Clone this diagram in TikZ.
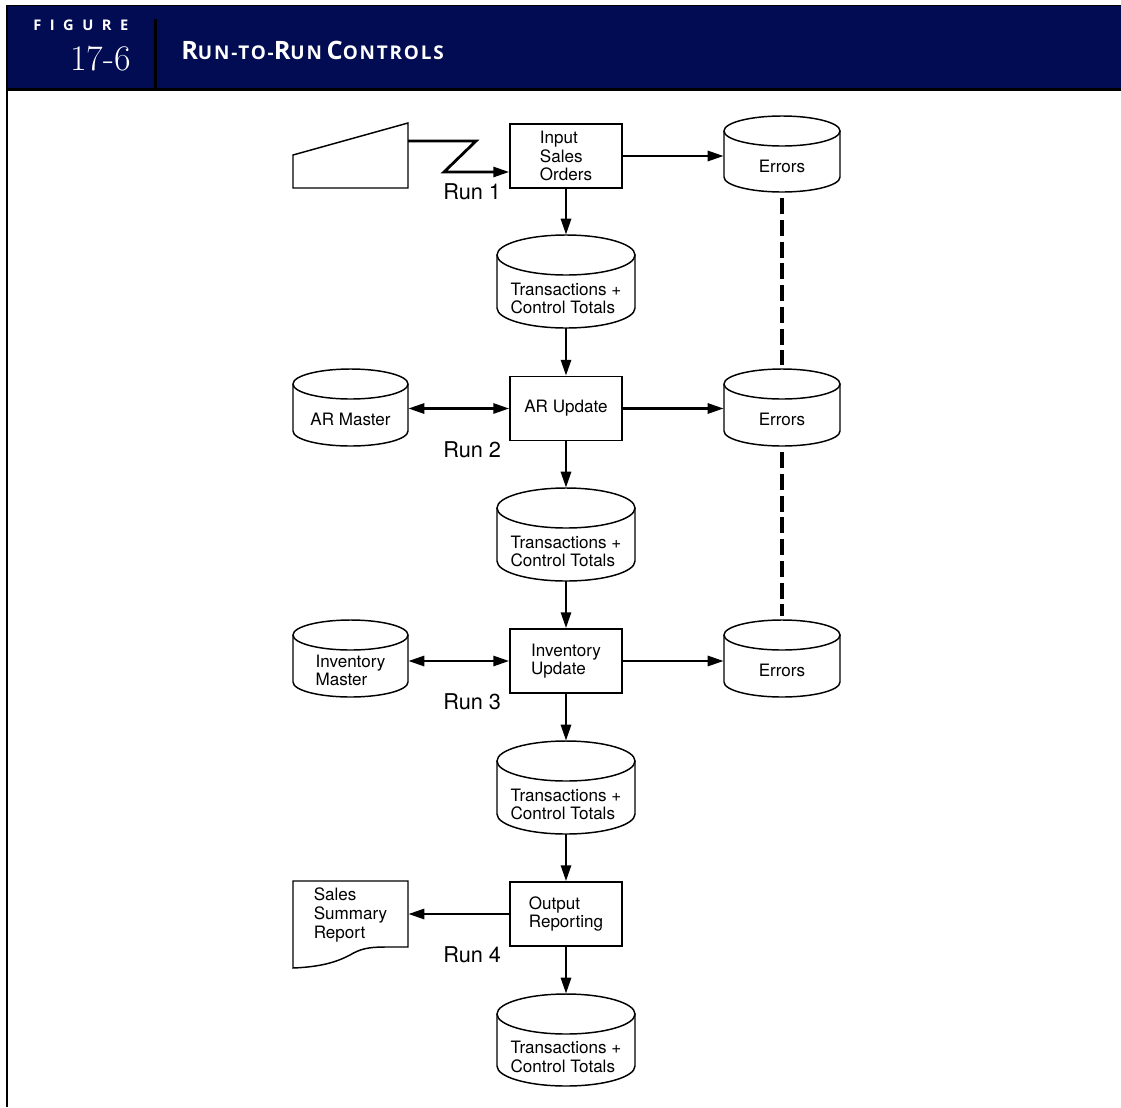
\documentclass[tikz,border=0pt]{standalone}
\usepackage{fontspec}
\usetikzlibrary{arrows.meta,calc}
\newfontfamily\helv{TeX Gyre Heros}
\newfontfamily\gill{Open Sans}
\definecolor{navy}{RGB}{2,12,82}
\newcommand\tbig[1]{{\fontsize{19}{22}\selectfont #1}}
\newcommand\tsml[1]{{\fontsize{14.2}{17}\selectfont #1}}
\tikzset{
  shapeline/.style={line width=1.1pt},
  box/.style={draw, line width=1.1pt, minimum width=84pt, minimum height=48pt, inner sep=0pt, align=left,
    font=\helv\fontsize{12.8}{14}\selectfont},
  txt/.style={inner sep=0pt, align=left, font=\helv\fontsize{12.8}{14}\selectfont},
  runlbl/.style={inner sep=0pt, anchor=west, font=\helv\fontsize{16.3}{18}\selectfont},
  arr/.style={line width=2.1pt, -{Triangle[length=12pt,width=7.5pt]}},
  dblarr/.style={line width=2.1pt, {Triangle[length=12pt,width=7.5pt]}-{Triangle[length=12pt,width=7.5pt]}},
  dashline/.style={line width=2.5pt, dash pattern=on 12pt off 4.3pt},
}
% #1 name, #2 cx, #3 top, #4 bottom, #5 half width, #6 ry, #7 text
\newcommand{\dbcyl}[7]{%
  \draw[shapeline] (#2,-#3-#6) ellipse [x radius=#5, y radius=#6];
  \draw[shapeline] (#2-#5,-#3-#6) -- (#2-#5,-#4+#6)
     arc[start angle=180, end angle=360, x radius=#5, y radius=#6] -- (#2+#5,-#3-#6);
  \node[inner sep=0pt, minimum width={2*#5*0.75pt}, minimum height={(#4-#3)*0.75pt}]
     (#1) at (#2,{-(#3+#4)/2}) {};
  \node[txt] (#1-t) at (#2,{-(#3+#4)/2-#6+3}) {#7};
}
\begin{document}
\begin{tikzpicture}[x=0.75pt,y=0.75pt]
\useasboundingbox (0,0) rectangle (1121,-1107);
% header
\fill[navy] (7,-5.5) rectangle (1121,-89);
\draw[line width=1.2pt] (6,-5.5) -- (1121,-5.5);
\draw[line width=1.5pt] (7,-5) -- (7,-1107);
\draw[line width=2.2pt] (7,-89.5) -- (1121,-89.5);
\draw[line width=2.2pt] (155.5,-19) -- (155.5,-89);
\node[anchor=west, inner sep=0pt, text=white, font=\gill\bfseries\fontsize{11}{13}\selectfont\addfontfeature{LetterSpace=58}] (figlbl) at (33,-25) {FIGURE};
\node[anchor=east, inner sep=0pt, text=white, font=\fontsize{27}{30}\selectfont] (fignum) at (131,-59) {17-6};
\node[anchor=west, inner sep=0pt, text=white, font=\gill\bfseries\addfontfeature{LetterSpace=9.5}] (title) at (181,-50) {\tbig{R}\tsml{UN-TO-}\tbig{R}\tsml{UN} \tbig{C}\tsml{ONTROLS}};

% process boxes
\node[box] (in) at (566,-156) {Input\\Sales\\Orders};
\node[box] (ar) at (566,-408.5) {AR Update};
\node[box] (inv) at (566,-661) {Inventory\\Update};
\node[box] (out) at (566,-914) {Output\\Reporting};

% cylinders
\dbcyl{err1}{782}{116}{192}{58}{15}{Errors}
\dbcyl{err2}{782}{369}{446}{58}{15}{Errors}
\dbcyl{err3}{782}{620}{697}{58}{15}{Errors}
\dbcyl{arm}{350.5}{369}{446}{57.5}{15}{AR Master}
\dbcyl{invm}{350.5}{620}{697}{57.5}{15}{Inventory\\Master}
\dbcyl{tr1}{566}{235}{328}{69}{20}{Transactions +\\Control Totals}
\dbcyl{tr2}{566}{488}{581}{69}{20}{Transactions +\\Control Totals}
\dbcyl{tr3}{566}{741}{834}{69}{20}{Transactions +\\Control Totals}
\dbcyl{tr4}{566}{994}{1086}{69}{20}{Transactions +\\Control Totals}

% keyboard (manual input)
\draw[shapeline] (293,-188) -- (293,-155) -- (408,-123) -- (408,-188) -- cycle;
\coordinate (kb) at (408,-141);
\coordinate (zz1) at (476,-141);
\coordinate (zz2) at (444,-172);
\draw[arr] (kb) -- (zz1) -- (zz2) -- (zz2 -| in.west);

% report document
\draw[shapeline] (408,-947) -- (408,-881) -- (293,-881) -- (293,-968)
  .. controls (318,-967) and (335,-963) .. (350,-955)
  .. controls (360,-949) and (368,-947) .. (385,-947) -- cycle;
\node[txt, minimum width=86.25pt, minimum height=49.5pt] (rep) at (350.5,-915) {Sales\\Summary\\Report};

% run labels
\node[runlbl] (run1) at (443,-192) {Run 1};
\node[runlbl] (run2) at (443,-450) {Run 2};
\node[runlbl] (run3) at (443,-702) {Run 3};
\node[runlbl] (run4) at (443,-955) {Run 4};

% main flow
\draw[arr] (in.south) -- (tr1.north);
\draw[arr] (tr1.south) -- (ar.north);
\draw[arr] (ar.south) -- (tr2.north);
\draw[arr] (tr2.south) -- (inv.north);
\draw[arr] (inv.south) -- (tr3.north);
\draw[arr] (tr3.south) -- (out.north);
\draw[arr] (out.south) -- (tr4.north);

% errors
\draw[arr] (in.east) -- (in.east -| err1.west);
\draw[arr] (ar.east) -- (ar.east -| err2.west);
\draw[arr] (inv.east) -- (inv.east -| err3.west);
\draw[dashline] ([yshift=-4.5pt]err1.south) -- ([yshift=3pt]err2.north);
\draw[dashline] ([yshift=-4.5pt]err2.south) -- ([yshift=3pt]err3.north);

% masters
\draw[dblarr] (arm.east |- ar.west) -- (ar.west);
\draw[dblarr] (invm.east |- inv.west) -- (inv.west);

% report
\draw[arr] (out.west) -- (out.west -| rep.east);
\end{tikzpicture}
\end{document}
